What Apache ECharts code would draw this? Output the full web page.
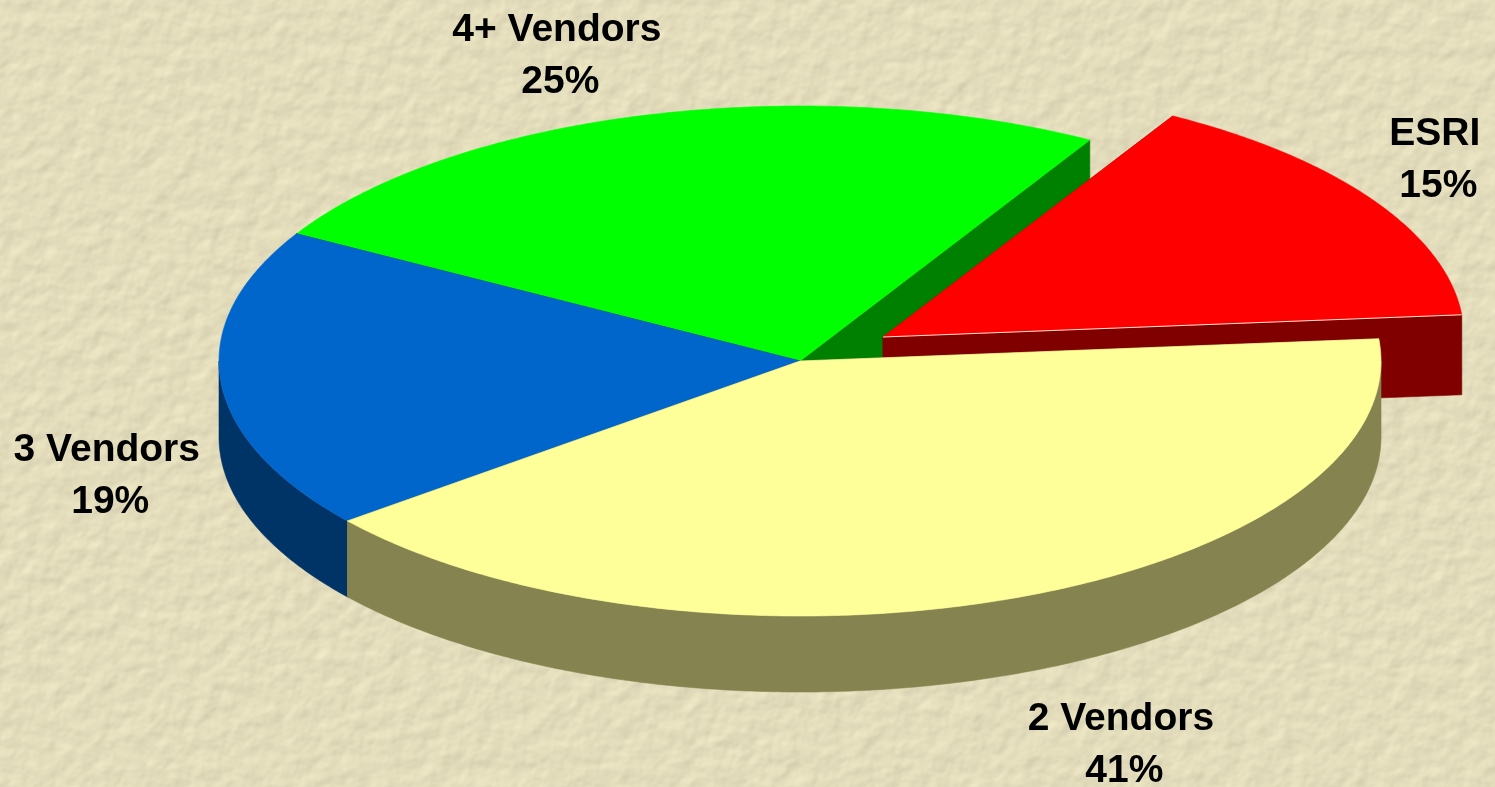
<!DOCTYPE html>
<html>
<head>
<meta charset="utf-8">
<title>Vendors</title>
<script src="https://cdn.jsdelivr.net/npm/echarts@6/dist/echarts.min.js"></script>
<style>
html,body{margin:0;padding:0;width:1495px;height:787px;overflow:hidden;background-color:#E4DEBC;}
#bg{position:absolute;left:-20px;top:-20px;}
#chart{position:absolute;left:0;top:0;width:1495px;height:787px;}
</style>
</head>
<body>
<svg id="bg" width="1535" height="827" xmlns="http://www.w3.org/2000/svg">
  <filter id="paper" x="0" y="0" width="100%" height="100%" color-interpolation-filters="sRGB">
    <feTurbulence type="fractalNoise" baseFrequency="0.055 0.055" numOctaves="3" seed="11" result="n"/>
    <feGaussianBlur in="n" stdDeviation="0.9" result="b"/>
    <feDiffuseLighting in="b" surfaceScale="0.8" diffuseConstant="1.12" lighting-color="#E5DFBE">
      <feDistantLight azimuth="235" elevation="62"/>
    </feDiffuseLighting>
  </filter>
  <rect width="1535" height="827" filter="url(#paper)"/>
</svg>
<div id="chart"></div>
<script>
// Data (slice sizes before the labels' rounding)
var categories = ['2 Vendors', '3 Vendors', '4+ Vendors', 'ESRI'];
var shares = [40.6, 19.1, 25, 15.3];

// Styles and layout
var topColors = ['#FFFF99', '#0066CC', '#00FF00', '#FF0000'];
var wallColors = ['#85834F', '#003366', '#008000', '#800000'];
var paintOrder = [3, 1, 0, 2];           // back-to-front rank of each slice
var explodeBy = [[0, 0], [0, 0], [0, 0], [83, -24]];
var labelNudge = [[104, 148], [-114, 95], [-92, -59], [62, -40]];
var depths = [76, 76, 76, 80];
var CX = 800, CY = 361, RX = 581, RY = 255;
var START_DEG = 355;
var LINE_GAP = 52, PERCENT_SHIFT = 3.5;

var total = shares.reduce(function (a, b) { return a + b; }, 0);
var rad = Math.PI / 180;

function pt(ox, oy, deg, dy) {
  return [ox + RX * Math.cos(deg * rad), oy + RY * Math.sin(deg * rad) + (dy || 0)];
}
function arc(ox, oy, a0, a1, dy) {
  var out = [], steps = Math.max(2, Math.ceil((a1 - a0) / 0.5));
  for (var i = 0; i <= steps; i++) out.push(pt(ox, oy, a0 + (a1 - a0) * i / steps, dy));
  return out;
}
function fill(points, color, z) {
  return { type: 'polygon', z2: z, shape: { points: points },
           style: { fill: color, stroke: color, lineWidth: 0.6 } };
}
function label(text, x, y) {
  return { type: 'text', z2: 100, x: x, y: y,
    style: { text: text, fill: '#000', font: 'bold 39px "Liberation Sans", Arial, sans-serif',
      align: 'center', verticalAlign: 'middle' } };
}

function renderSlice(params, api) {
  var i = params.dataIndex;
  var before = 0;
  for (var k = 0; k < i; k++) before += shares[k];
  var a0 = START_DEG + before / total * 360;
  var a1 = a0 + api.value(0) / total * 360;
  var ox = CX + explodeBy[i][0], oy = CY + explodeBy[i][1];
  var base = paintOrder[i] * 10;
  var depth = depths[i];
  var kids = [];

  // the two cut faces
  [a0, a1].forEach(function (a) {
    var e = pt(ox, oy, a);
    kids.push(fill([[ox, oy], e, [e[0], e[1] + depth], [ox, oy + depth]], wallColors[i], base + 1));
  });

  // the outer rim, only where it faces the viewer (0..180 degrees, also one turn on)
  [[0, 180], [360, 540]].forEach(function (w) {
    var s = Math.max(a0, w[0]), t = Math.min(a1, w[1]);
    if (t > s) {
      var up = arc(ox, oy, s, t, 0);
      var down = arc(ox, oy, s, t, depth).reverse();
      kids.push(fill(up.concat(down), wallColors[i], base + 2));
    }
  });

  // the top face
  kids.push(fill([[ox, oy]].concat(arc(ox, oy, a0, a1, 0)), topColors[i], base + 3));

  // highlight along the front cut of the pulled-out slice
  if (explodeBy[i][0] !== 0) {
    var q = pt(ox, oy, a1);
    kids.push({ type: 'line', z2: base + 4,
      shape: { x1: ox, y1: oy, x2: q[0], y2: q[1] },
      style: { stroke: '#FFE0D0', lineWidth: 1 } });
  }

  // label, two lines
  var mid = pt(ox, oy, (a0 + a1) / 2);
  var lx = mid[0] + labelNudge[i][0], ly = mid[1] + labelNudge[i][1];
  kids.push(label(categories[i], lx, ly - LINE_GAP / 2));
  kids.push(label(Math.round(api.value(0)) + '%', lx + PERCENT_SHIFT, ly + LINE_GAP / 2));

  return { type: 'group', children: kids };
}

var chart = echarts.init(document.getElementById('chart'), null, { renderer: 'canvas' });
chart.setOption({
  animation: false,
  backgroundColor: 'transparent',
  series: [{
    type: 'custom',
    coordinateSystem: 'none',
    renderItem: renderSlice,
    silent: true,
    clip: false,
    data: shares.map(function (v, i) { return { name: categories[i], value: [v] }; })
  }]
});
</script>
</body>
</html>
